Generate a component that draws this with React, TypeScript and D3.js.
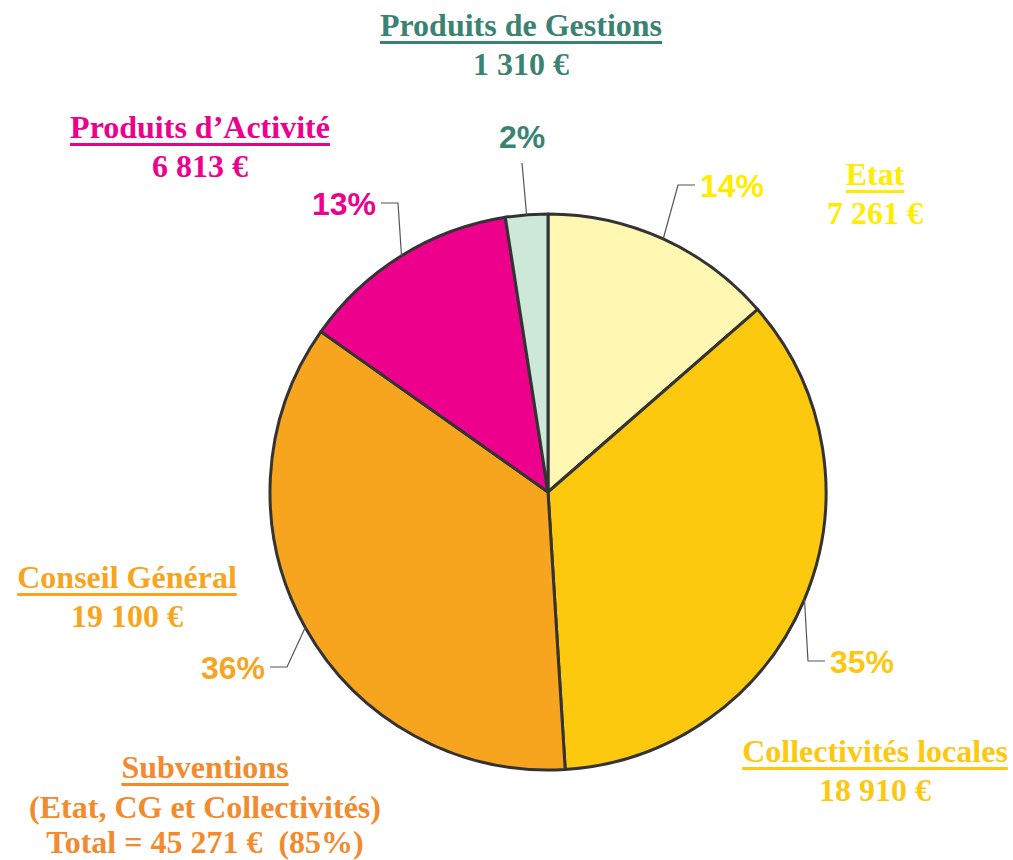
import React, { useEffect, useRef } from 'react'
import * as d3 from 'd3'

// sources de financement, dans l'ordre du camembert (sens horaire depuis midi)
const categories = ['Etat', 'Collectivités locales', 'Conseil Général', 'Produits d’Activité', 'Produits de Gestions']
const amounts = [7261, 18910, 19100, 6813, 1310]
const sliceColors = ['#fff7b2', '#fdc90e', '#f7a51f', '#ec008c', '#cde7d8']
const textColors = ['#ffec00', '#fdc80f', '#f7a51f', '#ec008c', '#3a8373']
// subventions = Etat + CG + Collectivités
const subventionKeys = ['Etat', 'Conseil Général', 'Collectivités locales']

const width = 1013
const height = 860
const cx = 548
const cy = 492
const radius = 278

// placement des étiquettes (titre + montant)
const titlePos = [
  { x: 875, y: 185 },
  { x: 875, y: 762 },
  { x: 127, y: 588 },
  { x: 200, y: 138 },
  { x: 521, y: 36 },
]
// coude de la ligne de rappel et position du pourcentage
const leaderPos = [
  { ex: 678, ey: 185, hx: 695, tx: 700, anchor: 'start' },
  { ex: 808, ey: 661, hx: 825, tx: 830, anchor: 'start' },
  { ex: 287, ey: 667, hx: 270, tx: 265, anchor: 'end' },
  { ex: 398, ey: 203, hx: 381, tx: 376, anchor: 'end' },
  { ex: 522, ey: 163, hx: 522, tx: 522, anchor: 'middle' },
]

const fr = d3.formatLocale({ decimal: ',', thousands: ' ', grouping: [3], currency: ['', ' €'] })
const fmt = fr.format(',d')

function App() {
  const svgRef = useRef(null)

  useEffect(() => {
    const svg = d3.select(svgRef.current)
    svg.selectAll('*').remove()

    const total = d3.sum(amounts)
    const data = categories.map((c, i) => ({ name: c, value: amounts[i], i }))

    const pie = d3.pie().value(d => d.value).sort(null)
    const arc = d3.arc().innerRadius(0).outerRadius(radius)
    const arcs = pie(data)

    const g = svg.append('g').attr('transform', `translate(${cx}, ${cy})`)
    g.selectAll('path')
      .data(arcs)
      .join('path')
      .attr('d', arc)
      .attr('fill', d => sliceColors[d.data.i])
      .attr('stroke', '#333')
      .attr('stroke-width', 3)
      .attr('stroke-linejoin', 'round')

    // lignes de rappel + pourcentages
    arcs.forEach(a => {
      const i = a.data.i
      const mid = (a.startAngle + a.endAngle) / 2
      const px = cx + Math.sin(mid) * radius
      const py = cy - Math.cos(mid) * radius
      const lp = leaderPos[i]
      const pts = [[px, py], [lp.ex, lp.ey], [lp.hx, lp.ey]]
      svg.append('path')
        .attr('d', d3.line()(pts))
        .attr('fill', 'none')
        .attr('stroke', '#555')
        .attr('stroke-width', 1.2)

      const pct = Math.round(a.data.value / total * 100) + '%'
      svg.append('text')
        .attr('x', lp.tx)
        .attr('y', i === 4 ? 148 : lp.ey + 12)
        .attr('text-anchor', lp.anchor)
        .attr('font-family', '"Liberation Sans", Arial, sans-serif')
        .attr('font-weight', 'bold')
        .attr('font-size', 32)
        .attr('fill', textColors[i])
        .text(pct)
    })

    function titled(x, y, lines, color) {
      lines.forEach((line, k) => {
        const t = svg.append('text')
          .attr('x', x)
          .attr('y', y + line.dy)
          .attr('text-anchor', 'middle')
          .attr('font-family', '"Liberation Serif", "Times New Roman", serif')
          .attr('font-weight', 'bold')
          .attr('font-size', 32)
          .attr('fill', color)
          .style('white-space', 'pre')
          .text(line.text)
        if (k === 0) {
          const w = t.node().getComputedTextLength()
          svg.append('rect')
            .attr('x', x - w / 2)
            .attr('y', y + 5)
            .attr('width', w)
            .attr('height', 3)
            .attr('fill', color)
        }
      })
    }

    data.forEach(d => {
      const p = titlePos[d.i]
      titled(p.x, p.y, [
        { text: d.name, dy: 0 },
        { text: fmt(d.value) + ' €', dy: 39 },
      ], textColors[d.i])
    })

    const subTotal = d3.sum(data.filter(d => subventionKeys.includes(d.name)), d => d.value)
    titled(205, 778, [
      { text: 'Subventions', dy: 0 },
      { text: '(Etat, CG et Collectivités)', dy: 40 },
      { text: `Total = ${fmt(subTotal)} €  (${Math.round(subTotal / total * 100)}%)`, dy: 75 },
    ], '#f28a2e')
  }, [])

  return (
    <svg
      ref={svgRef}
      width={width}
      height={height}
      style={{ position: 'absolute', left: 0, top: 0, background: '#fff' }}
    />
  )
}

export default App
